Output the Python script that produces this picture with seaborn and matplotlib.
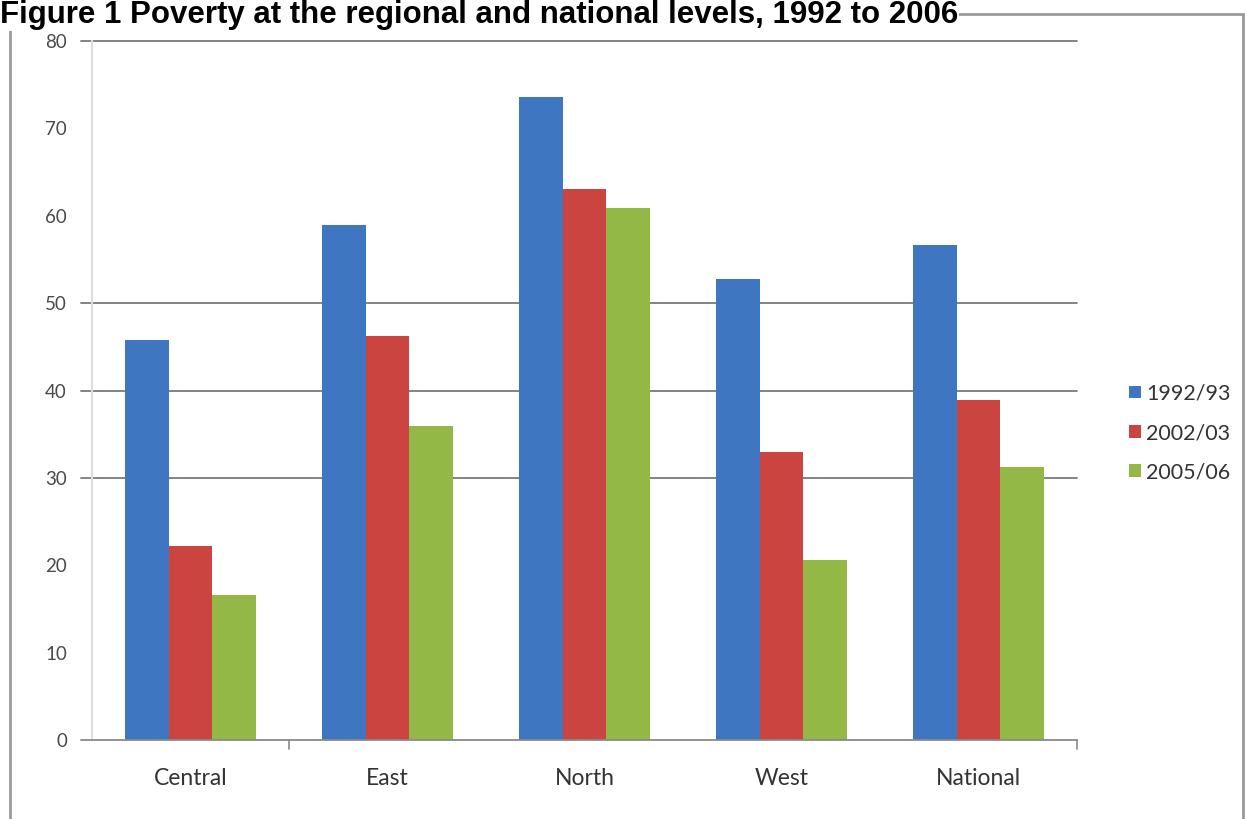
import matplotlib
matplotlib.use("Agg")
import matplotlib.pyplot as plt
import seaborn as sns
import pandas as pd
from matplotlib.patches import Rectangle, Patch

regions = ["Central", "East", "North", "West", "National"]
years = ["1992/93", "2002/03", "2005/06"]
v_1992 = [45.8, 58.9, 73.6, 52.8, 56.6]
v_2002 = [22.2, 46.2, 63.1, 33.0, 38.9]
v_2005 = [16.6, 35.9, 60.9, 20.6, 31.3]
y_ticks = [0, 10, 20, 30, 40, 50, 60, 70, 80]
grid_vals = [30, 40, 50, 80]
title = "Figure 1 Poverty at the regional and national levels, 1992 to 2006"

colors = ["#3F76C2", "#CC4440", "#93B846"]

rows = []
for yr, vals in zip(years, [v_1992, v_2002, v_2005]):
    for r, v in zip(regions, vals):
        rows.append({"region": r, "year": yr, "value": v})
df = pd.DataFrame(rows)

sns.set_theme(style="white")
plt.rcParams['font.family'] = ['Lato', 'DejaVu Sans']

fig = plt.figure(figsize=(12.46, 8.19), dpi=100)
ax = fig.add_axes([92/1246, 1-740/819, (1077-92)/1246, (740-41)/819])

sns.barplot(data=df, x="region", y="value", hue="year", order=regions,
            hue_order=years, palette=colors, width=0.66, gap=0,
            saturation=1, ax=ax, legend=False, linewidth=0)

ax.set_ylim(0, 80)
ax.set_xlim(-0.5, 4.5)
ax.set_xlabel("")
ax.set_ylabel("")
ax.set_yticks(y_ticks)
ax.set_yticklabels([str(t) for t in y_ticks], fontsize=13.5, color="#4a4a4a")
ax.tick_params(axis="y", length=0, pad=18)
ax.tick_params(axis="x", length=0, pad=20, labelsize=16.5, labelcolor="#333333")

for g in grid_vals:
    ax.axhline(g, xmin=-0.011, xmax=1, color="#7a7a7a", lw=1.3, clip_on=False, zorder=0)
ax.axhline(0, xmin=-0.011, xmax=1, color="#8a8a8a", lw=1.3, clip_on=False, zorder=3)

# category boundary ticks
for b in [0.5, 4.5]:
    ax.plot([b, b], [0, -1.0], color="#8a8a8a", lw=1.2, clip_on=False)

for s in ["top", "right", "bottom"]:
    ax.spines[s].set_visible(False)
ax.spines["left"].set_color("#dddddd")
ax.spines["left"].set_linewidth(1.5)

handles = [Patch(facecolor=c, edgecolor="none") for c in colors]
fig.legend(handles, years, loc="center left", bbox_to_anchor=(1118/1246, 1-433/819),
           frameon=False, fontsize=15.5, handlelength=0.55, handleheight=0.55,
           handletextpad=0.25, labelspacing=0.9, borderpad=0,
           labelcolor="#333333")

fig.patches.append(Rectangle((10/1246, -0.01), (1243-10)/1246, 1-14/819+0.01,
                             transform=fig.transFigure, fill=False,
                             edgecolor="#9a9a9a", lw=2))

fig.text(0.0, 1-23/819, title, fontsize=22.5, fontweight="bold", va="baseline",
         ha="left", family="Liberation Sans", color="black", zorder=5,
         bbox=dict(facecolor="white", edgecolor="none", pad=0.5))

fig.savefig("out.png", dpi=100, facecolor="white")
